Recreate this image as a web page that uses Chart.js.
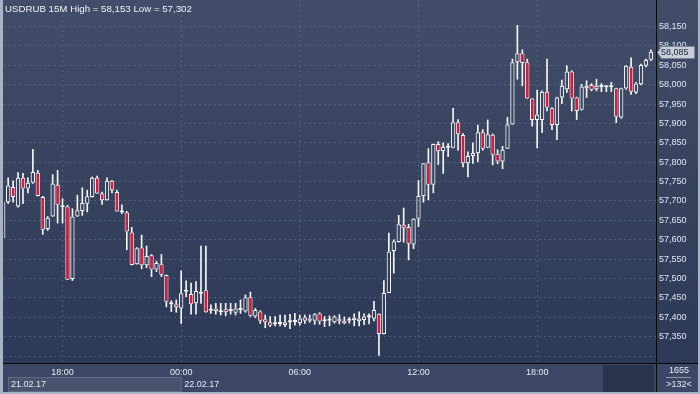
<!DOCTYPE html>
<html>
<head>
<meta charset="utf-8">
<script src="https://cdn.jsdelivr.net/npm/chart.js@4.4.1/dist/chart.umd.min.js"></script>
<style>
html, body { margin: 0; padding: 0; background: #2e3a57; }
canvas { display: block; }
</style>
</head>
<body>
<canvas id="chart" width="700" height="394"></canvas>
<script>
const symbol = 'USDRUB 15M';
const tickIndex = [12, 36, 60, 84, 108];
const tickLabels = ['18:00', '00:00', '06:00', '12:00', '18:00'];
const dateIndex = [0, 36];
const dateLabels = ['21.02.17', '22.02.17'];
const barsTotal = '1655';
const barsShown = '>132<';

const opens = [
  57.605, 57.697, 57.736, 57.686, 57.760, 57.732, 57.747, 57.773, 57.710, 57.628,
  57.660, 57.742, 57.686, 57.686, 57.499, 57.660, 57.674, 57.693, 57.710, 57.760,
  57.719, 57.702, 57.752, 57.723, 57.673, 57.670, 57.619, 57.537, 57.580, 57.534,
  57.560, 57.523, 57.537, 57.509, 57.436, 57.434, 57.423, 57.466, 57.460, 57.436,
  57.463, 57.470, 57.419, 57.423, 57.415, 57.421, 57.416, 57.412, 57.419, 57.415,
  57.452, 57.402, 57.415, 57.395, 57.387, 57.382, 57.383, 57.380, 57.387, 57.388,
  57.385, 57.391, 57.397, 57.391, 57.410, 57.391, 57.391, 57.387, 57.396, 57.391,
  57.391, 57.399, 57.390, 57.393, 57.400, 57.396, 57.409, 57.357, 57.463, 57.571,
  57.594, 57.639, 57.633, 57.588, 57.654, 57.713, 57.799, 57.742, 57.847, 57.828,
  57.837, 57.837, 57.903, 57.870, 57.797, 57.816, 57.823, 57.877, 57.837, 57.871,
  57.822, 57.802, 57.835, 57.897, 58.058, 58.081, 58.058, 57.964, 57.909, 57.909,
  57.982, 57.939, 57.896, 57.967, 57.988, 58.034, 57.967, 57.935, 57.991, 57.999,
  57.988, 57.999, 57.993, 57.993, 57.991, 57.915, 57.990, 58.046, 57.980, 58.001,
  58.049, 58.064
];
const highs = [
  57.700, 57.760, 57.752, 57.773, 57.771, 57.760, 57.833, 57.779, 57.712, 57.660,
  57.768, 57.779, 57.706, 57.689, 57.680, 57.715, 57.734, 57.728, 57.762, 57.764,
  57.723, 57.760, 57.753, 57.728, 57.690, 57.673, 57.632, 57.580, 57.612, 57.584,
  57.562, 57.545, 57.562, 57.509, 57.443, 57.445, 57.520, 57.494, 57.488, 57.492,
  57.584, 57.584, 57.432, 57.436, 57.436, 57.436, 57.436, 57.436, 57.445, 57.458,
  57.465, 57.423, 57.417, 57.406, 57.402, 57.402, 57.406, 57.406, 57.408, 57.410,
  57.406, 57.406, 57.406, 57.410, 57.412, 57.402, 57.404, 57.404, 57.407, 57.401,
  57.400, 57.409, 57.414, 57.409, 57.409, 57.441, 57.409, 57.495, 57.617, 57.600,
  57.663, 57.682, 57.640, 57.654, 57.753, 57.797, 57.835, 57.847, 57.853, 57.850,
  57.848, 57.939, 57.910, 57.874, 57.827, 57.850, 57.896, 57.884, 57.909, 57.873,
  57.832, 57.841, 57.916, 58.066, 58.153, 58.090, 58.066, 57.964, 57.986, 57.984,
  58.066, 57.941, 57.968, 58.012, 58.049, 58.036, 57.968, 58.001, 58.010, 58.003,
  58.014, 58.003, 57.997, 58.006, 57.991, 57.991, 58.049, 58.069, 58.006, 58.053,
  58.066, 58.090
];
const lows = [
  57.603, 57.693, 57.697, 57.684, 57.693, 57.721, 57.745, 57.713, 57.614, 57.624,
  57.660, 57.643, 57.643, 57.497, 57.495, 57.660, 57.663, 57.672, 57.710, 57.719,
  57.691, 57.702, 57.721, 57.673, 57.667, 57.574, 57.535, 57.537, 57.525, 57.528,
  57.505, 57.518, 57.505, 57.427, 57.415, 57.413, 57.384, 57.453, 57.408, 57.408,
  57.436, 57.413, 57.410, 57.408, 57.406, 57.404, 57.408, 57.406, 57.410, 57.413,
  57.402, 57.399, 57.384, 57.373, 57.376, 57.378, 57.378, 57.376, 57.371, 57.380,
  57.380, 57.384, 57.387, 57.382, 57.382, 57.376, 57.378, 57.385, 57.383, 57.383,
  57.385, 57.378, 57.378, 57.381, 57.383, 57.391, 57.302, 57.357, 57.463, 57.514,
  57.594, 57.594, 57.548, 57.577, 57.634, 57.697, 57.703, 57.721, 57.794, 57.771,
  57.814, 57.837, 57.831, 57.788, 57.762, 57.797, 57.801, 57.831, 57.837, 57.793,
  57.796, 57.783, 57.835, 57.897, 58.014, 57.997, 57.964, 57.893, 57.837, 57.876,
  57.932, 57.884, 57.858, 57.951, 57.980, 57.932, 57.910, 57.934, 57.967, 57.984,
  57.984, 57.982, 57.982, 57.982, 57.902, 57.913, 57.988, 57.975, 57.977, 57.999,
  58.046, 58.062
];
const closes = [
  57.697, 57.740, 57.710, 57.760, 57.732, 57.747, 57.775, 57.713, 57.626, 57.657,
  57.745, 57.690, 57.684, 57.497, 57.660, 57.676, 57.695, 57.712, 57.760, 57.719,
  57.702, 57.752, 57.728, 57.673, 57.670, 57.621, 57.535, 57.578, 57.534, 57.558,
  57.523, 57.540, 57.510, 57.440, 57.434, 57.426, 57.462, 57.468, 57.434, 57.468,
  57.461, 57.413, 57.417, 57.416, 57.413, 57.413, 57.418, 57.423, 57.421, 57.452,
  57.404, 57.419, 57.391, 57.387, 57.379, 57.383, 57.385, 57.387, 57.388, 57.390,
  57.397, 57.400, 57.391, 57.408, 57.389, 57.390, 57.393, 57.402, 57.390, 57.385,
  57.393, 57.393, 57.397, 57.402, 57.402, 57.419, 57.357, 57.463, 57.570, 57.596,
  57.640, 57.630, 57.590, 57.654, 57.713, 57.797, 57.742, 57.847, 57.828, 57.840,
  57.839, 57.903, 57.872, 57.797, 57.816, 57.824, 57.877, 57.835, 57.872, 57.819,
  57.802, 57.832, 57.897, 58.058, 58.081, 58.056, 57.964, 57.909, 57.923, 57.982,
  57.941, 57.896, 57.967, 57.997, 58.034, 57.964, 57.932, 57.995, 57.997, 57.987,
  57.997, 57.994, 57.995, 57.995, 57.917, 57.991, 58.049, 57.982, 58.003, 58.051,
  58.064, 58.085
];

const fmt = v => v.toFixed(3).replace('.', ',');
const FONT = '"Liberation Sans", Arial, sans-serif';
const red = '#e3163a';
const white = '#f6f6f6';

const upperWicks = highs.map((h, i) => ({ x: i, y: [Math.max(opens[i], closes[i]), h] }));
const lowerWicks = lows.map((l, i) => ({ x: i, y: [l, Math.min(opens[i], closes[i])] }));
const bodies = opens.map((o, i) => ({ x: i, y: [o, closes[i]] }));

// backgrounds under the grid, captions and frame on top
const backdrop = {
  id: 'backdrop',
  beforeDraw(chart) {
    const ctx = chart.ctx;
    const bottom = chart.chartArea.bottom;
    const g = ctx.createLinearGradient(0, 0, 0, bottom);
    g.addColorStop(0, '#424e69');
    g.addColorStop(0.45, '#38445f');
    g.addColorStop(1, '#2c3957');
    ctx.save();
    ctx.fillStyle = g;
    ctx.fillRect(0, 0, 700, bottom);
    ctx.fillStyle = '#3b4764';
    ctx.fillRect(0, bottom, 700, 394 - bottom);
    ctx.fillStyle = '#28334e';
    ctx.fillRect(603, bottom + 2, 51, 27);
    ctx.restore();
  },
  afterDraw(chart) {
    const ctx = chart.ctx;
    const { right, bottom } = chart.chartArea;
    const xs = chart.scales.x, ys = chart.scales.y;
    ctx.save();
    ctx.fillStyle = '#06080d';
    ctx.fillRect(right, 0, 1, 394);
    ctx.fillRect(0, bottom, 700, 1);

    const dx = xs.getPixelForValue(dateIndex[1]);
    ctx.fillStyle = '#48546e';
    ctx.fillRect(8, 377, dx - 8, 15);
    ctx.strokeStyle = '#5f6b86';
    ctx.lineWidth = 1;
    ctx.strokeRect(8.5, 377.5, dx - 8.5, 14);
    ctx.font = '9px ' + FONT;
    ctx.fillStyle = '#e6ebf3';
    ctx.textBaseline = 'middle';
    ctx.textAlign = 'left';
    ctx.fillText(dateLabels[0], 11, 385);
    ctx.fillText(dateLabels[1], dx + 3, 385);

    ctx.textAlign = 'center';
    ctx.fillText(barsTotal, 679, 371);
    ctx.fillText(barsShown, 679, 385);
    ctx.fillStyle = '#8e99ad';
    ctx.fillRect(666, 377, 25, 1);

    const hi = Math.max(...highs), lo = Math.min(...lows);
    ctx.textAlign = 'left';
    ctx.fillStyle = '#eef1f7';
    ctx.font = '9.7px ' + FONT;
    ctx.fillText(symbol + ' High = ' + fmt(hi) + ' Low = ' + fmt(lo), 5, 9);

    // last price tag
    const last = closes[closes.length - 1];
    const ty = Math.round(ys.getPixelForValue(last)) + 0.5;
    ctx.beginPath();
    ctx.moveTo(right + 1.5, ty);
    ctx.lineTo(right + 5.5, ty - 6);
    ctx.lineTo(right + 38.5, ty - 6);
    ctx.lineTo(right + 38.5, ty + 6);
    ctx.lineTo(right + 5.5, ty + 6);
    ctx.closePath();
    ctx.fillStyle = '#c9cfda';
    ctx.fill();
    ctx.strokeStyle = '#7c869a';
    ctx.stroke();
    ctx.font = '9px ' + FONT;
    ctx.fillStyle = '#1b2336';
    ctx.fillText(fmt(last), right + 5, ty + 0.5);

    ctx.fillStyle = '#a8b3c5';
    ctx.fillRect(0, 0, 3, 394);
    ctx.fillRect(698, 0, 2, 394);
    ctx.fillRect(0, 392, 700, 2);
    ctx.restore();
  }
};

const gridStyle = { color: 'rgba(112,127,158,0.45)', lineWidth: 1, drawTicks: false };

new Chart(document.getElementById('chart'), {
  type: 'bar',
  data: {
    datasets: [
      { data: upperWicks, backgroundColor: white, barThickness: 1, order: 2 },
      { data: lowerWicks, backgroundColor: white, barThickness: 1, order: 2 },
      {
        data: bodies,
        backgroundColor: c => closes[c.dataIndex] < opens[c.dataIndex] ? red : 'rgba(0,0,0,0)',
        borderColor: white,
        borderWidth: 1,
        borderSkipped: false,
        minBarLength: 2,
        barPercentage: 0.88,
        categoryPercentage: 1,
        order: 1
      }
    ]
  },
  options: {
    responsive: false,
    animation: false,
    events: [],
    grouped: false,
    layout: { padding: { left: 4, top: 0, right: 0, bottom: 0 } },
    plugins: { legend: { display: false }, tooltip: { enabled: false } },
    scales: {
      x: {
        type: 'linear',
        min: 0.16,
        max: 132.04,
        offset: false,
        grid: { ...gridStyle, offset: false },
        border: { display: false, dash: [2, 3] },
        afterBuildTicks: s => { s.ticks = tickIndex.map(v => ({ value: v })); },
        afterFit: s => { s.height = 31; s.paddingLeft = 0; s.paddingRight = 0; },
        ticks: {
          autoSkip: false,
          maxRotation: 0,
          padding: 4,
          color: '#e6ebf3',
          font: { family: FONT, size: 9 },
          callback: v => tickLabels[tickIndex.indexOf(v)]
        }
      },
      y: {
        position: 'right',
        min: 57.2822,
        max: 58.2183,
        grid: gridStyle,
        border: { display: false, dash: [2, 3] },
        afterBuildTicks: s => { s.ticks = s.ticks.filter(t => t.value < 58.19); },
        afterFit: s => { s.width = 44; s.paddingTop = 0; s.paddingBottom = 0; },
        ticks: {
          stepSize: 0.05,
          includeBounds: false,
          autoSkip: false,
          padding: 3,
          color: '#dfe6f2',
          font: { family: FONT, size: 9 },
          callback: v => v < 57.32 ? '' : fmt(v)
        }
      }
    }
  },
  plugins: [backdrop]
});
</script>
</body>
</html>
